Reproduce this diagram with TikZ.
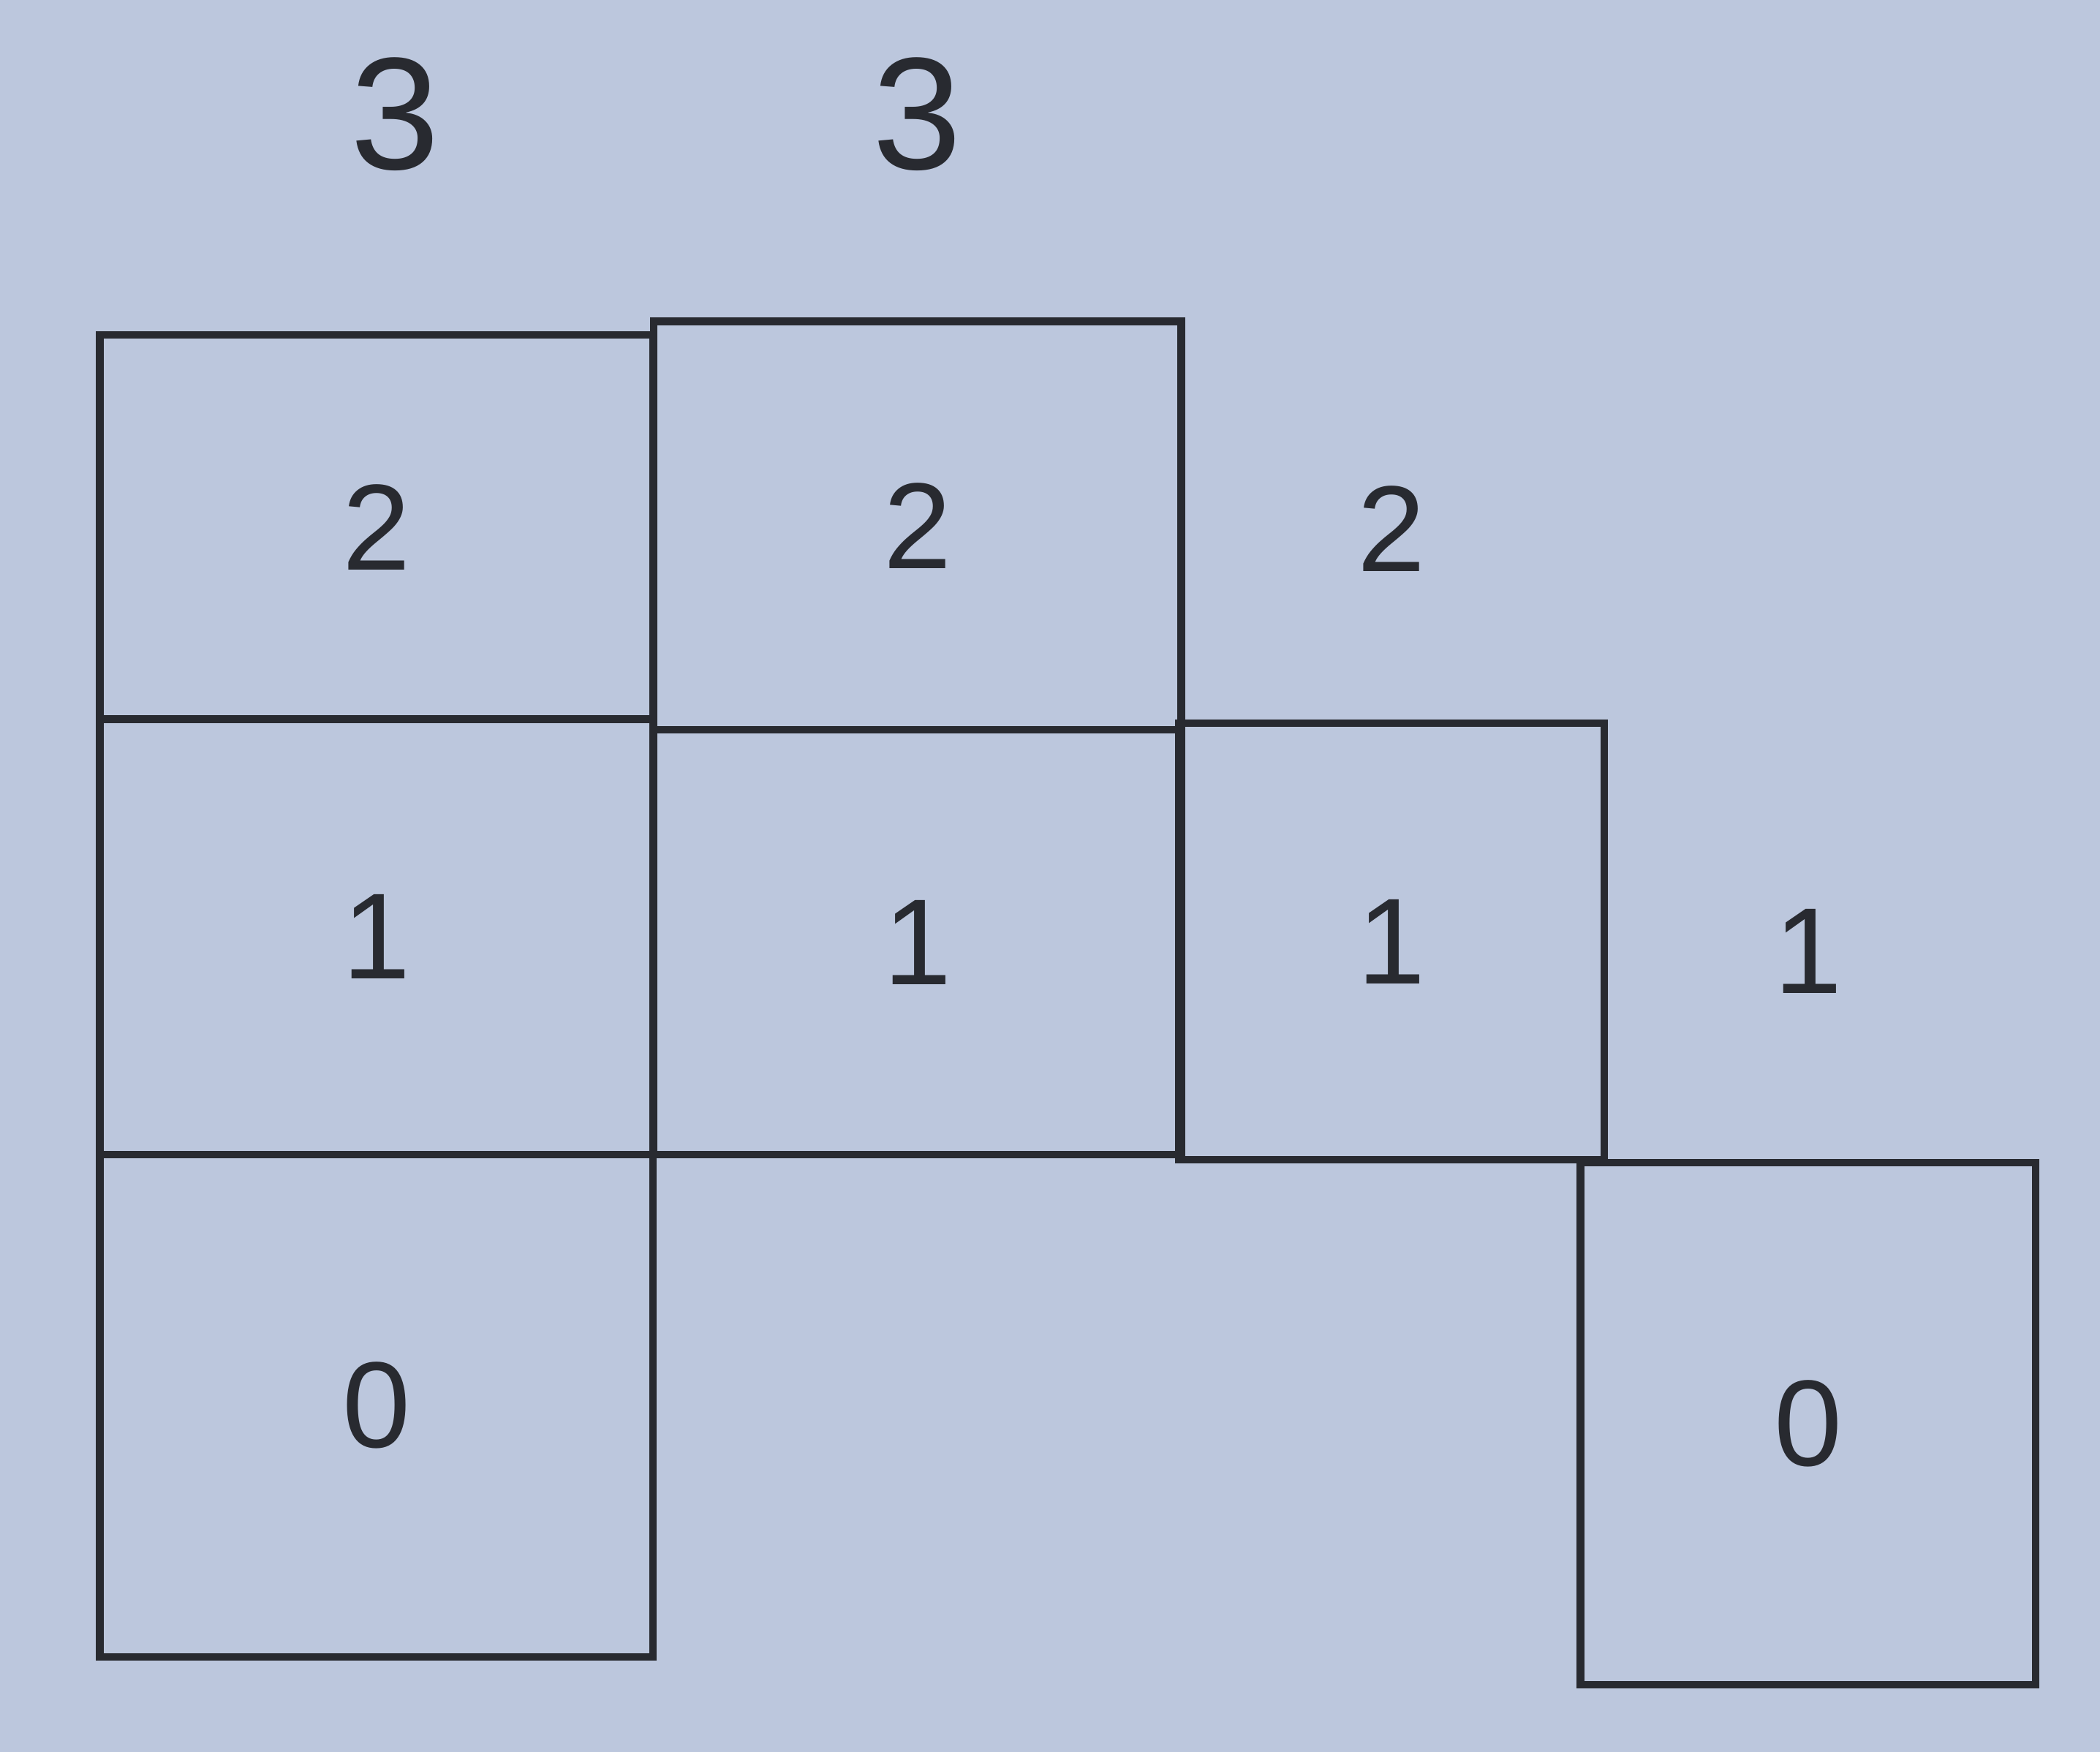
\documentclass[tikz,border=0pt]{standalone}
\usepackage{fontspec}
\setmainfont{Liberation Sans}
\definecolor{paper}{RGB}{188,199,221}
\definecolor{ink}{RGB}{40,42,48}

\begin{document}
\begin{tikzpicture}[line width=1.6pt]

    \tikzset{cell/.style={%
      draw=ink,%
      rectangle,%
      inner sep=0pt,%
      text=ink,%
      font=\fontsize{26}{30}\selectfont}%
    };

    \tikzset{count/.style={cell, draw=none, font=\fontsize{34}{40}\selectfont}};

    \fill[paper] (0, 0) rectangle (15.68, -13.08);
    \useasboundingbox (0, 0) rectangle (15.68, -13.08);

    %%%%%%%%%%%%%%%
    %  columns    %
    %%%%%%%%%%%%%%%
    \node [cell, minimum width=4.13cm, minimum height=2.87cm] (atwo) at (2.81, -3.935) {2};
    \node [cell, minimum width=4.13cm, minimum height=3.25cm] (aone) at (2.81, -6.995) {1};
    \node [cell, minimum width=4.13cm, minimum height=3.75cm] (azero) at (2.81, -10.495) {0};

    \node [cell, minimum width=3.94cm, minimum height=3.05cm] (btwo) at (6.85, -3.925) {2};
    \node [cell, minimum width=3.94cm, minimum height=3.17cm] (bone) at (6.85, -7.035) {1};

    \node [cell, minimum width=3.18cm, minimum height=3.26cm] (cone) at (10.39, -7.03) {1};
    \node [count, font=\fontsize{26}{30}\selectfont] (ctwo) at (10.39, -3.95) {2};

    \node [cell, minimum width=3.40cm, minimum height=3.90cm] (dzero) at (13.50, -10.63) {0};
    \node [count, font=\fontsize{26}{30}\selectfont] (done) at (13.50, -7.10) {1};

    %%%%%%%%%%%%%%%
    %  heights    %
    %%%%%%%%%%%%%%%
    \node [count] (ahead) at (2.95, -0.85) {3};
    \node [count] (bhead) at (6.85, -0.85) {3};

  \end{tikzpicture}
\end{document}
